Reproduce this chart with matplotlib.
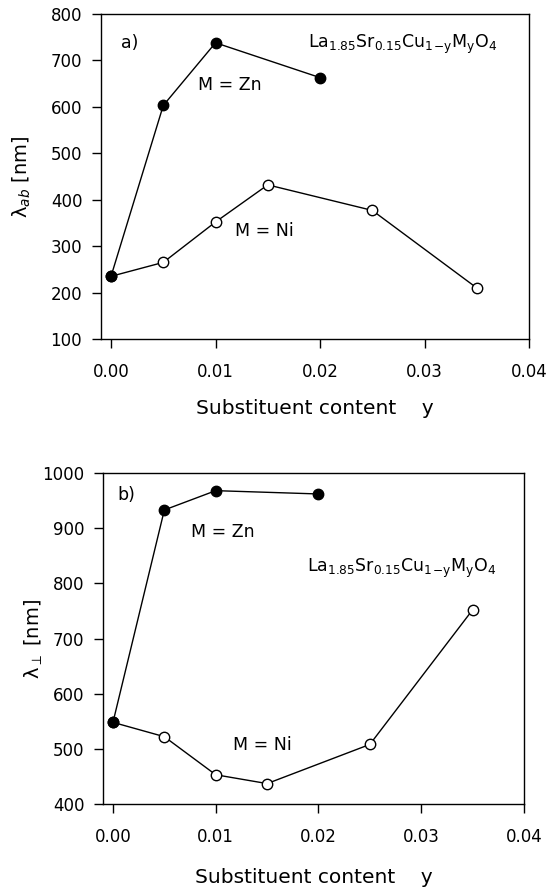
import matplotlib
matplotlib.use("Agg")
import matplotlib.pyplot as plt

plt.rcParams['font.family'] = ['DejaVu Sans']
plt.rcParams['mathtext.fontset'] = 'dejavusans'

# Data panel a) lambda_ab
y_zn_a = [0.0, 0.005, 0.01, 0.02]
lam_zn_a = [235, 603, 738, 663]
y_ni_a = [0.0, 0.005, 0.01, 0.015, 0.025, 0.035]
lam_ni_a = [235, 265, 352, 432, 377, 210]

# Data panel b) lambda_perp
y_zn_b = [0.0, 0.005, 0.01, 0.02]
lam_zn_b = [548, 933, 968, 962]
y_ni_b = [0.0, 0.005, 0.01, 0.015, 0.025, 0.035]
lam_ni_b = [548, 522, 453, 437, 508, 752]

xticks = [0.00, 0.01, 0.02, 0.03, 0.04]
xticklabels = ['0.00', '0.01', '0.02', '0.03', '0.04']
yticks_a = [100, 200, 300, 400, 500, 600, 700, 800]
yticks_b = [400, 500, 600, 700, 800, 900, 1000]

formula = r'La$_{1.85}$Sr$_{0.15}$Cu$_{\mathrm{1\!-\!y}}$M$_{\mathrm{y}}$O$_{4}$'

fig = plt.figure(figsize=(5.48, 8.88), dpi=100)
W, H = 548, 888

def add_ax(l, r, t, b):
    return fig.add_axes([l / W, 1 - b / H, (r - l) / W, (b - t) / H])

axa = add_ax(101, 529, 14, 339)
axb = add_ax(103, 524, 473, 804)

def style(ax, yticks, ylim, xlim):
    ax.set_xlim(*xlim)
    ax.set_ylim(*ylim)
    ax.set_xticks(xticks)
    ax.set_xticklabels(xticklabels)
    ax.set_yticks(yticks)
    ax.tick_params(direction='out', length=6.5, width=1, labelsize=12)
    ax.tick_params(axis='x', pad=11)
    ax.tick_params(axis='y', pad=7)
    for s in ax.spines.values():
        s.set_linewidth(1)
    ax.set_xlabel('Substituent content    y', fontsize=14.5)

mk = dict(markersize=7.5, color='black', linewidth=1, markeredgewidth=1)

# Panel a
axa.plot(y_ni_a, lam_ni_a, 'o-', markerfacecolor='white', **mk)
axa.plot(y_zn_a, lam_zn_a, 'o-', markerfacecolor='black', **mk)
style(axa, yticks_a, (100, 800), (-0.00096, 0.04))
axa.set_ylabel(r'$\mathrm{\lambda}_{ab}$ [nm]', fontsize=14)
axa.yaxis.set_label_coords(-0.159, 0.5)
axa.xaxis.set_label_coords(0.5, -0.186)
axa.text(0.00096, 737, 'a)', fontsize=12.5, va='center', ha='left')
axa.text(0.01885, 727, formula, fontsize=12.5, va='baseline', ha='left')
axa.text(0.0083, 647, 'M = Zn', fontsize=12.5, va='center', ha='left')
axa.text(0.01187, 333, 'M = Ni', fontsize=12.5, va='center', ha='left')

# Panel b
axb.plot(y_ni_b, lam_ni_b, 'o-', markerfacecolor='white', **mk)
axb.plot(y_zn_b, lam_zn_b, 'o-', markerfacecolor='black', **mk)
style(axb, yticks_b, (400, 1000), (-0.00097, 0.04))
axb.set_ylabel(r'$\mathrm{\lambda}_{\perp}$ [nm]', fontsize=14)
axb.yaxis.set_label_coords(-0.138, 0.5)
axb.xaxis.set_label_coords(0.5, -0.192)
axb.text(0.0004, 960, 'b)', fontsize=12.5, va='center', ha='left')
axb.text(0.0076, 893, 'M = Zn', fontsize=12.5, va='center', ha='left')
axb.text(0.0189, 821, formula, fontsize=12.5, va='baseline', ha='left')
axb.text(0.01168, 507, 'M = Ni', fontsize=12.5, va='center', ha='left')

fig.savefig('out.png', dpi=100)
